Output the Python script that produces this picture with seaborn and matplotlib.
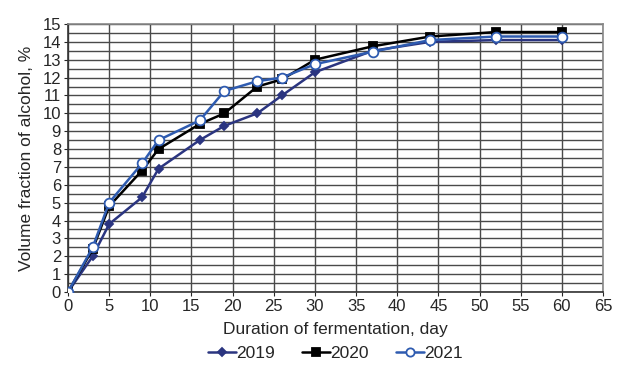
import matplotlib
matplotlib.use("Agg")
import matplotlib.pyplot as plt
import seaborn as sns
import pandas as pd
import numpy as np

days = [0, 3, 5, 9, 11, 16, 19, 23, 26, 30, 37, 44, 52, 60]
v2019 = [0, 2.0, 3.8, 5.3, 6.9, 8.5, 9.3, 10.0, 11.0, 12.3, 13.5, 14.0, 14.1, 14.1]
v2020 = [0, 2.4, 4.8, 6.8, 8.0, 9.4, 10.0, 11.5, 11.9, 13.0, 13.75, 14.3, 14.55, 14.55]
v2021 = [0, 2.5, 5.0, 7.2, 8.5, 9.6, 11.25, 11.8, 12.0, 12.75, 13.45, 14.1, 14.3, 14.3]
years = ["2019", "2020", "2021"]

df = pd.concat([
    pd.DataFrame({"day": days, "value": v, "year": y})
    for v, y in zip([v2019, v2020, v2021], years)
])

sns.set_style("white")
plt.rcParams['font.family'] = ['Liberation Sans', 'DejaVu Sans']

fig = plt.figure(figsize=(6.22, 3.72), dpi=100)
ax = fig.add_axes([68/622, 1-292/372, (603-68)/622, (292-24)/372])

palette = {"2019": "#2B3580", "2020": "#000000", "2021": "#2E5BB0"}
markers = {"2019": "D", "2020": "s", "2021": "o"}

for y in years:
    sub = df[df.year == y]
    mfc = "white" if y == "2021" else palette[y]
    ms = 7 if y == "2021" else (6 if y == "2020" else 4.5)
    sns.lineplot(data=sub, x="day", y="value", ax=ax, color=palette[y],
                 marker=markers[y], markersize=ms, markerfacecolor=mfc,
                 markeredgecolor=palette[y], markeredgewidth=1.3,
                 linewidth=1.8, label=y, zorder=3)

ax.set_xlim(0, 65)
ax.set_ylim(0, 15)
ax.set_xticks(np.arange(0, 66, 5))
ax.set_yticks(np.arange(0, 16, 1))
ax.set_yticks(np.arange(0.5, 15, 1), minor=True)
ax.grid(True, which="major", axis="both", color="#4a4a4a", linewidth=1.0)
ax.grid(True, which="minor", axis="y", color="#4a4a4a", linewidth=1.0)
ax.set_axisbelow(True)
for s in ax.spines.values():
    s.set_color("#888888")
    s.set_linewidth(1.2)
ax.spines["left"].set_color("#333333")
ax.spines["bottom"].set_color("#333333")
ax.tick_params(axis="both", which="major", labelsize=12, length=3, direction="out",
               left=True, bottom=True, pad=2)
ax.tick_params(axis="both", which="minor", length=0)
ax.set_xlabel("Duration of fermentation, day", fontsize=12.5, labelpad=6)
ax.set_ylabel("Volume fraction of alcohol, %", fontsize=12.5, labelpad=6)

ax.legend(loc="upper center", bbox_to_anchor=(0.5, -0.2), ncol=3, frameon=False,
          fontsize=12.5, handlelength=1.6, columnspacing=1.6, handletextpad=0.0,
          borderaxespad=0, borderpad=0, markerscale=0.85)

fig.savefig("out.png", dpi=100)
